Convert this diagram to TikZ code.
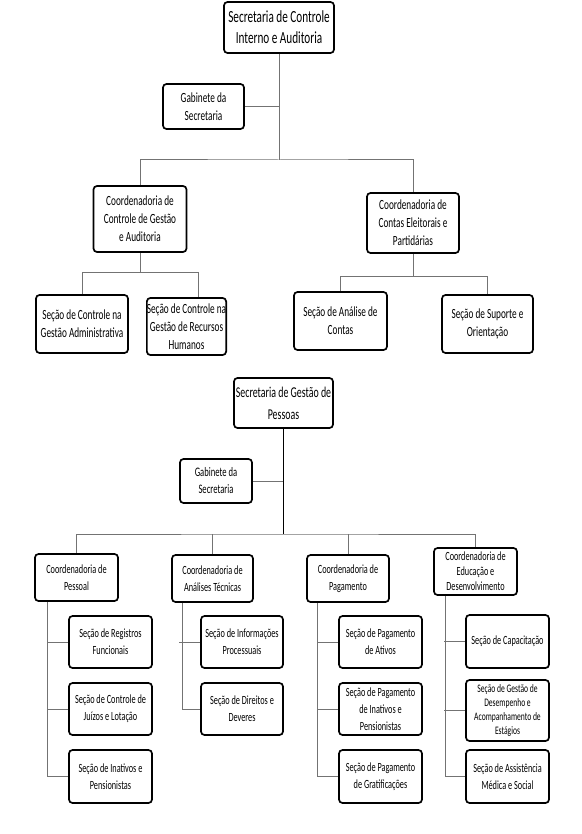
\documentclass[tikz,border=0pt]{standalone}
\usepackage{fontspec}
\setmainfont{Carlito}[FakeStretch=0.66]
\usetikzlibrary{positioning}
\tikzset{
  unitbox/.style={draw, line width=1.7pt, rounded corners=3.5pt, fill=white,
    align=center, inner sep=0pt},
  headtext/.style={font=\fontsize{17}{21}\selectfont},
  uppertext/.style={font=\fontsize{14}{18}\selectfont},
  lowertext/.style={font=\fontsize{12.5}{17}\selectfont},
  link/.style={draw=black!55, line width=1pt},
  trunk/.style={draw=black, line width=1.8pt},
}

\begin{document}
\begin{tikzpicture}[x=1pt, y=-1pt]
  \useasboundingbox[fill=white] (0,0) rectangle (581,834);

  % Secretaria de Controle Interno e Auditoria
  \node[unitbox, headtext, minimum width=110pt, minimum height=51pt] (sci) at (279,27.5)
    {Secretaria de Controle\\Interno e Auditoria};
  \node[unitbox, uppertext, minimum width=81pt, minimum height=45pt] (gab1) at (203.5,106.5)
    {Gabinete da\\Secretaria};
  \node[unitbox, uppertext, minimum width=93pt, minimum height=66pt] (ccg) at (140,219)
    {Coordenadoria de\\Controle de Gestão\\e Auditoria};
  \node[unitbox, uppertext, minimum width=92pt, minimum height=60pt] (cce) at (413,223)
    {Coordenadoria de\\Contas Eleitorais e\\Partidárias};
  \node[unitbox, uppertext, minimum width=92pt, minimum height=58pt] (sga) at (82,324)
    {Seção de Controle na\\Gestão Administrativa};
  \node[unitbox, uppertext, minimum width=69pt, minimum height=57pt] (srh) at (186.5,326.5)
    {Seção de Controle na\\Gestão de Recursos\\Humanos};
  \node[unitbox, uppertext, minimum width=93pt, minimum height=58pt] (sac) at (340.5,321)
    {Seção de Análise de\\Contas};
  \node[unitbox, uppertext, minimum width=91pt, minimum height=58pt] (sso) at (487.5,324)
    {Seção de Suporte e\\Orientação};

  \coordinate (bus1) at (279,160);
  \draw[link] (sci.south) -- (bus1);
  \draw[link] (gab1.east) -- (gab1.east -| sci.south);
  \draw[link] (ccg.north) |- (bus1) -| (cce.north);
  \draw[link] (ccg.south) -- ++(0,20);
  \draw[link] (sga.north) |- ([xshift=11.5pt]srh.north |- 0,272) -- ([xshift=11.5pt]srh.north);
  \draw[link] (cce.south) -- ++(0,23);
  \draw[link] (sac.north) |- (sso.north |- 0,276) -- (sso.north);

  % Secretaria de Gestao de Pessoas
  \node[unitbox, font=\fontsize{15}{22}\selectfont, minimum width=99pt, minimum height=50pt] (sgp) at (283.5,403)
    {Secretaria de Gestão de\\Pessoas};
  \node[unitbox, font=\fontsize{13}{17}\selectfont, minimum width=72pt, minimum height=44pt] (gab2) at (216,481)
    {Gabinete da\\Secretaria};

  \node[unitbox, lowertext, minimum width=83pt, minimum height=47pt] (cpe) at (76.5,577.5)
    {Coordenadoria de\\Pessoal};
  \node[unitbox, lowertext, minimum width=81pt, minimum height=47pt] (cat) at (212.5,578.5)
    {Coordenadoria de\\Análises Técnicas};
  \node[unitbox, lowertext, minimum width=82pt, minimum height=47pt] (cpg) at (348,578.5)
    {Coordenadoria de\\Pagamento};
  \node[unitbox, font=\fontsize{12.5}{15}\selectfont, minimum width=83pt, minimum height=47pt] (ced) at (475.5,571.5)
    {Coordenadoria de\\Educação e\\Desenvolvimento};

  \node[unitbox, lowertext, minimum width=83pt, minimum height=52pt] (srf) at (110.5,642)
    {Seção de Registros\\Funcionais};
  \node[unitbox, lowertext, minimum width=83pt, minimum height=52pt] (sjl) at (110.5,709)
    {Seção de Controle de\\Juízos e Lotação};
  \node[unitbox, lowertext, minimum width=83pt, minimum height=53pt] (sip) at (110.5,776.5)
    {Seção de Inativos e\\Pensionistas};

  \node[unitbox, lowertext, minimum width=82pt, minimum height=52pt] (sin) at (242,642)
    {Seção de Informações\\Processuais};
  \node[unitbox, lowertext, minimum width=82pt, minimum height=52pt] (sdd) at (242,709)
    {Seção de Direitos e\\Deveres};

  \node[unitbox, lowertext, minimum width=83pt, minimum height=52pt] (spa) at (380.5,642)
    {Seção de Pagamento\\de Ativos};
  \node[unitbox, lowertext, minimum width=83pt, minimum height=52pt] (spi) at (380.5,709)
    {Seção de Pagamento\\de Inativos e\\Pensionistas};
  \node[unitbox, lowertext, minimum width=83pt, minimum height=53pt] (spg) at (380.5,776.5)
    {Seção de Pagamento\\de Gratificações};

  \node[unitbox, lowertext, minimum width=83pt, minimum height=53pt] (scp) at (507.5,641.5)
    {Seção de Capacitação};
  \node[unitbox, font=\fontsize{11.5}{14}\selectfont, minimum width=83pt, minimum height=61pt] (sgd) at (507.5,710.5)
    {Seção de Gestão de\\Desempenho e\\Acompanhamento de\\Estágios};
  \node[unitbox, lowertext, minimum width=83pt, minimum height=53pt] (sam) at (507.5,776.5)
    {Seção de Assistência\\Médica e Social};

  \coordinate (bus2) at (283.5,534);
  \draw[link] (gab2.east) -- (gab2.east -| sgp.south);
  \draw[link] (cpe.north) |- (bus2) -| (ced.north);
  \draw[link] (cat.north) -- (cat.north |- bus2);
  \draw[link] (cpg.north) -- (cpg.north |- bus2);
  \draw[trunk] (sgp.south) -- (bus2);

  % column trunks
  \draw[link] ([xshift=13pt]cpe.south west) |- (sip.west);
  \draw[link] ([xshift=11pt]cat.south west) |- (sdd.west);
  \draw[link] ([xshift=11pt]cpg.south west) |- (spg.west);
  \draw[link] ([xshift=12pt]ced.south west) |- (sam.west);
  \foreach \child in {srf,sjl,sin,spa,spi,scp,sgd}
    \draw[link] (\child.west) -- ++(-21,0);
\end{tikzpicture}
\end{document}
